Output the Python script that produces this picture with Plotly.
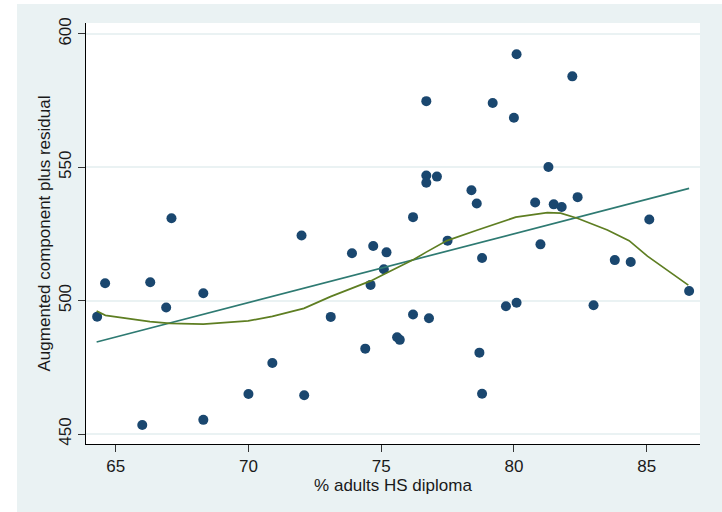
import plotly.graph_objects as go

# Scatter data: % adults HS diploma vs augmented component plus residual
hs_diploma = [64.3, 64.6, 66.3, 66.9, 67.1, 68.3, 66.0, 68.3, 70.0, 70.9,
              72.1, 72.0, 73.1, 73.9, 74.7, 75.2, 74.6, 75.1, 74.4, 75.6,
              75.7, 76.2, 76.2, 76.7, 76.7, 76.7, 77.1, 76.8, 77.5, 78.4,
              78.6, 78.8, 78.7, 78.8, 79.2, 80.0, 80.1, 79.7, 80.1, 80.8,
              81.0, 81.3, 81.5, 81.8, 82.2, 82.4, 83.0, 83.8, 84.4, 85.1,
              86.6]
acpr = [494.0, 506.5, 506.9, 497.4, 530.9, 502.8, 453.4, 455.3, 465.0, 476.6,
        464.5, 524.4, 493.9, 517.8, 520.5, 518.1, 505.9, 511.8, 482.0, 486.3,
        485.3, 531.3, 494.8, 574.8, 546.9, 544.2, 546.5, 493.4, 522.5, 541.4,
        536.4, 516.0, 480.5, 465.1, 574.1, 568.6, 592.4, 497.9, 499.2, 536.8,
        521.1, 550.1, 536.1, 535.1, 584.1, 538.8, 498.3, 515.2, 514.5, 530.4,
        503.6]

# Linear fit (endpoints)
fit_x = [64.28, 86.6]
fit_y = [484.5, 542.1]

# Lowess smooth
lowess_x = [64.28, 64.61, 66.29, 67.04, 68.30, 69.99, 70.90, 72.09, 73.09, 73.89,
            74.61, 75.05, 75.49, 76.24, 76.68, 77.48, 78.63, 80.07, 81.26, 81.76,
            82.39, 83.52, 84.34, 85.03, 86.57]
lowess_y = [496.1, 494.5, 492.1, 491.5, 491.2, 492.4, 494.1, 497.1, 501.5, 504.5,
            507.4, 509.6, 511.8, 515.5, 518.1, 522.5, 526.5, 531.3, 533.0, 532.8,
            530.9, 526.5, 522.5, 516.7, 505.8]

x_ticks = [65, 70, 75, 80, 85]
y_ticks = [450, 500, 550, 600]

BG = "#EAF2F3"
FONT = "Liberation Sans, Arial, sans-serif"

fig = go.Figure()
fig.add_trace(go.Scatter(x=hs_diploma, y=acpr, mode="markers",
                         marker=dict(color="#1A476F", size=10, line=dict(width=0)),
                         showlegend=False, hoverinfo="x+y"))
fig.add_trace(go.Scatter(x=fit_x, y=fit_y, mode="lines",
                         line=dict(color="#2E7A72", width=1.7), showlegend=False))
fig.add_trace(go.Scatter(x=lowess_x, y=lowess_y, mode="lines",
                         line=dict(color="#5E7E22", width=1.7), showlegend=False))

fig.update_layout(
    width=722, height=512,
    margin=dict(l=86, r=22, t=23, b=68, pad=0),
    paper_bgcolor=BG, plot_bgcolor="white",
    font=dict(family=FONT, size=17, color="#1a1a1a"),
    shapes=[
        dict(type="rect", xref="paper", yref="paper", x0=-0.2, x1=(17 - 86) / 614,
             y0=-0.2, y1=1.1, fillcolor="white", line=dict(width=0), layer="below"),
        dict(type="rect", xref="paper", yref="paper", x0=-0.2, x1=1.1,
             y0=1 + 19 / 421, y1=1.1, fillcolor="white", line=dict(width=0), layer="below"),
    ],
)
fig.update_xaxes(range=[63.88, 87.01], tickvals=x_ticks, ticks="outside", ticklen=7,
                 tickcolor="#333", tickwidth=1, showgrid=False, zeroline=False,
                 showline=True, linecolor="black", linewidth=1,
                 title=dict(text="% adults HS diploma", standoff=1,
                            font=dict(size=17)),
                 tickfont=dict(size=17))
fig.update_yaxes(range=[446.25, 604.1], tickvals=y_ticks, ticks="outside", ticklen=7,
                 tickcolor="#333", tickwidth=1, showgrid=True, gridcolor=BG,
                 gridwidth=1.5, zeroline=False, showline=True, linecolor="black",
                 linewidth=1, tickangle=-90,
                 title=dict(text="Augmented component plus residual", standoff=1,
                            font=dict(size=17)),
                 tickfont=dict(size=17))

fig.write_html("out.html")
